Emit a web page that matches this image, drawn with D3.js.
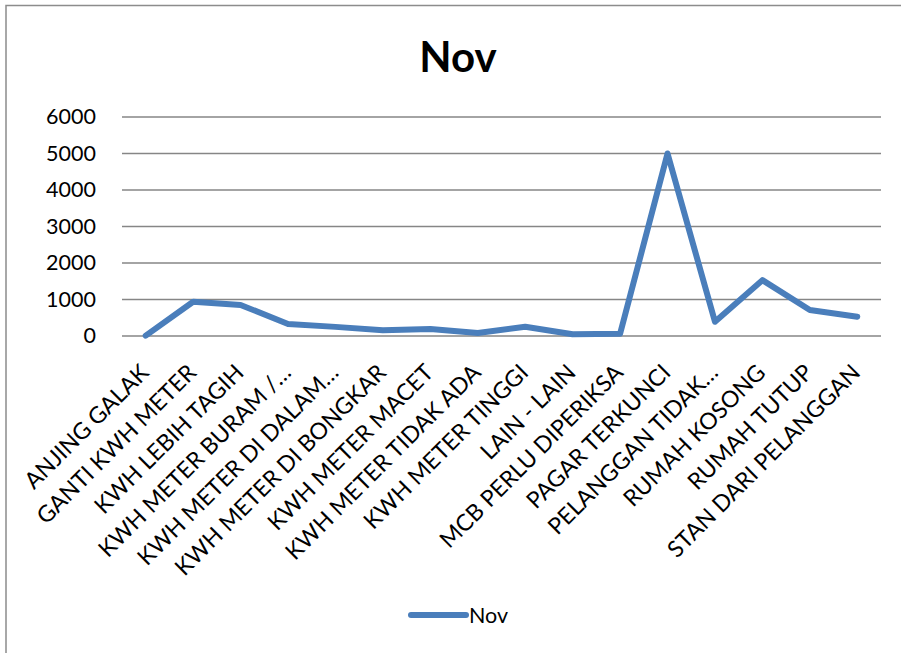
<!DOCTYPE html>
<html>
<head>
<meta charset="utf-8">
<script src="https://cdn.jsdelivr.net/npm/d3@7"></script>
<style>
  body { margin: 0; background: #fff; }
  svg { display: block; font-family: Lato, "Liberation Sans", sans-serif; }
</style>
</head>
<body>
<svg id="chart" width="901" height="653"></svg>
<script>
// data
const categories = [
  "ANJING GALAK", "GANTI KWH METER", "KWH LEBIH TAGIH", "KWH METER BURAM /…",
  "KWH METER DI DALAM…", "KWH METER DI BONGKAR", "KWH METER MACET", "KWH METER TIDAK ADA",
  "KWH METER TINGGI", "LAIN - LAIN", "MCB PERLU DIPERIKSA", "PAGAR TERKUNCI",
  "PELANGGAN TIDAK…", "RUMAH KOSONG", "RUMAH TUTUP", "STAN DARI PELANGGAN"
];
const novValues = [10, 940, 850, 330, 250, 160, 190, 80, 255, 50, 60, 5000, 390, 1530, 710, 530];
const yTicks = [0, 1000, 2000, 3000, 4000, 5000, 6000];
const seriesName = "Nov";

const svg = d3.select("#chart");
const blue = "#4a7ebb";

// outer frame (only top and left edges show in the crop)
svg.append("path")
  .attr("d", "M6,653 V5.5 H901")
  .attr("fill", "none").attr("stroke", "#8c8c8c").attr("stroke-width", 1.5);

const plotL = 122, plotR = 881, plotT = 117, plotB = 336;

const x = d3.scalePoint()
  .domain(categories)
  .range([plotL, plotR])
  .padding(0.5);

const y = d3.scaleLinear()
  .domain([0, 6000])
  .range([plotB, plotT]);

// title
svg.append("text")
  .attr("x", 458).attr("y", 72)
  .attr("text-anchor", "middle")
  .attr("font-size", 42).attr("font-weight", "bold")
  .text("Nov");

// gridlines
svg.append("g")
  .selectAll("line")
  .data(yTicks).enter().append("line")
    .attr("x1", plotL).attr("x2", plotR)
    .attr("y1", d => y(d)).attr("y2", d => y(d))
    .attr("stroke", "#868686").attr("stroke-width", 1.5);

// y axis labels
const yAxis = svg.append("g")
  .attr("transform", `translate(${plotL},0)`)
  .call(d3.axisLeft(y).tickValues(yTicks).tickSize(0).tickPadding(26).tickFormat(d3.format("d")));
yAxis.select(".domain").remove();
yAxis.selectAll("text")
  .attr("font-family", "Lato, sans-serif")
  .attr("font-size", 21.5).attr("fill", "#000");

// x axis labels, rotated 45°
const xAxis = svg.append("g")
  .attr("transform", `translate(0,${plotB})`)
  .call(d3.axisBottom(x).tickSize(0).tickPadding(0));
xAxis.select(".domain").remove();
xAxis.selectAll("text")
  .attr("font-family", "Lato, sans-serif")
  .attr("font-size", 23).attr("fill", "#000")
  .attr("text-anchor", "end")
  .attr("dy", 0)
  .attr("y", 0)
  .attr("transform", "translate(4,38) rotate(-45)");

// line
const line = d3.line()
  .x((d, i) => x(categories[i]))
  .y(d => y(d));

svg.append("path")
  .datum(novValues)
  .attr("d", line)
  .attr("fill", "none")
  .attr("stroke", blue)
  .attr("stroke-width", 6)
  .attr("stroke-linejoin", "round")
  .attr("stroke-linecap", "round");

// legend
svg.append("line")
  .attr("x1", 411).attr("x2", 466)
  .attr("y1", 615).attr("y2", 615)
  .attr("stroke", blue).attr("stroke-width", 6)
  .attr("stroke-linecap", "round");
svg.append("text")
  .attr("x", 469).attr("y", 623)
  .attr("font-size", 21.5)
  .text(seriesName);
</script>
</body>
</html>
